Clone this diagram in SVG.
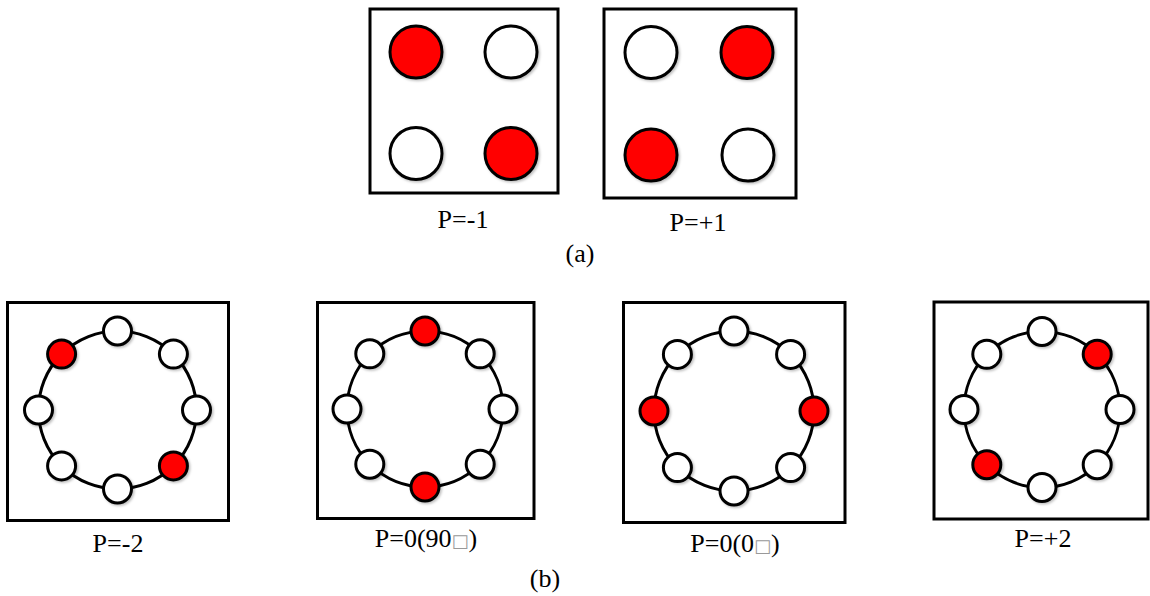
<svg xmlns="http://www.w3.org/2000/svg" width="1150" height="596" viewBox="0 0 1150 596">
<style>
.box{fill:#fff;stroke:#000;stroke-width:3}
.ring{fill:none;stroke:#000;stroke-width:3}
.w{fill:#fff;stroke:#000;stroke-width:3;filter:url(#sh)}
.r{fill:#ff0000;stroke:#000;stroke-width:3;filter:url(#sh)}
.lbl{font-family:"Liberation Serif","Times New Roman",serif;font-size:26px;text-anchor:middle;fill:#000}
.tofu{fill:#999;font-family:"DejaVu Sans",sans-serif;font-size:18px}
</style>
<defs>
<filter id="sh" x="-30%" y="-30%" width="170%" height="170%">
<feDropShadow dx="1.5" dy="1.5" stdDeviation="1" flood-color="#000" flood-opacity="0.25"/>
</filter>
</defs>
<rect width="1150" height="596" fill="#fff"/>

<g id="panel-a-m1">
<rect class="box" x="370" y="9" width="188" height="184"/>
<circle class="r" cx="416" cy="52" r="26"/>
<circle class="w" cx="511" cy="52" r="26"/>
<circle class="w" cx="416" cy="153.5" r="26"/>
<circle class="r" cx="511" cy="153.5" r="26"/>
<text class="lbl" x="463" y="228">P=-1</text>
</g>

<g id="panel-a-p1">
<rect class="box" x="604" y="9" width="192" height="189"/>
<circle class="w" cx="651" cy="52.5" r="26"/>
<circle class="r" cx="747" cy="52.5" r="26"/>
<circle class="r" cx="651" cy="155" r="26"/>
<circle class="w" cx="748" cy="155" r="26"/>
<text class="lbl" x="698" y="231">P=+1</text>
</g>

<text id="cap-a" class="lbl" x="580" y="262">(a)</text>

<g id="panel-b-m2">
<rect class="box" x="7.5" y="302.5" width="221" height="218"/>
<circle class="ring" cx="117.5" cy="410" r="79"/>
<circle class="w" cx="196.5" cy="410" r="14"/>
<circle class="w" cx="173.4" cy="354.1" r="14"/>
<circle class="w" cx="117.5" cy="331" r="14"/>
<circle class="r" cx="61.6" cy="354.1" r="14"/>
<circle class="w" cx="38.5" cy="410" r="14"/>
<circle class="w" cx="61.6" cy="465.9" r="14"/>
<circle class="w" cx="117.5" cy="489" r="14"/>
<circle class="r" cx="173.4" cy="465.9" r="14"/>
<text class="lbl" x="118" y="552">P=-2</text>
</g>

<g id="panel-b-090">
<rect class="box" x="317.5" y="302.5" width="216.5" height="216"/>
<circle class="ring" cx="425" cy="409" r="78"/>
<circle class="w" cx="503" cy="409" r="14"/>
<circle class="w" cx="480.2" cy="353.8" r="14"/>
<circle class="r" cx="425" cy="331" r="14"/>
<circle class="w" cx="369.8" cy="353.8" r="14"/>
<circle class="w" cx="347" cy="409" r="14"/>
<circle class="w" cx="369.8" cy="464.2" r="14"/>
<circle class="r" cx="425" cy="487" r="14"/>
<circle class="w" cx="480.2" cy="464.2" r="14"/>
<text class="lbl" x="426" y="547">P=0(90<tspan class="tofu">□</tspan>)</text>
</g>

<g id="panel-b-00">
<rect class="box" x="623.5" y="302.5" width="221.5" height="220"/>
<circle class="ring" cx="734" cy="411" r="80"/>
<circle class="r" cx="814" cy="411" r="14"/>
<circle class="w" cx="790.6" cy="354.4" r="14"/>
<circle class="w" cx="734" cy="331" r="14"/>
<circle class="w" cx="677.4" cy="354.4" r="14"/>
<circle class="r" cx="654" cy="411" r="14"/>
<circle class="w" cx="677.4" cy="467.6" r="14"/>
<circle class="w" cx="734" cy="491" r="14"/>
<circle class="w" cx="790.6" cy="467.6" r="14"/>
<text class="lbl" x="735" y="552">P=0(0<tspan class="tofu">□</tspan>)</text>
</g>

<g id="panel-b-p2">
<rect class="box" x="934" y="302" width="214" height="217"/>
<circle class="ring" cx="1042" cy="409.5" r="78"/>
<circle class="w" cx="1120" cy="409.5" r="14"/>
<circle class="r" cx="1097.2" cy="354.3" r="14"/>
<circle class="w" cx="1042" cy="331.5" r="14"/>
<circle class="w" cx="986.8" cy="354.3" r="14"/>
<circle class="w" cx="964" cy="409.5" r="14"/>
<circle class="r" cx="986.8" cy="464.7" r="14"/>
<circle class="w" cx="1042" cy="487.5" r="14"/>
<circle class="w" cx="1097.2" cy="464.7" r="14"/>
<text class="lbl" x="1043" y="547">P=+2</text>
</g>

<text id="cap-b" class="lbl" x="545" y="587">(b)</text>
</svg>
